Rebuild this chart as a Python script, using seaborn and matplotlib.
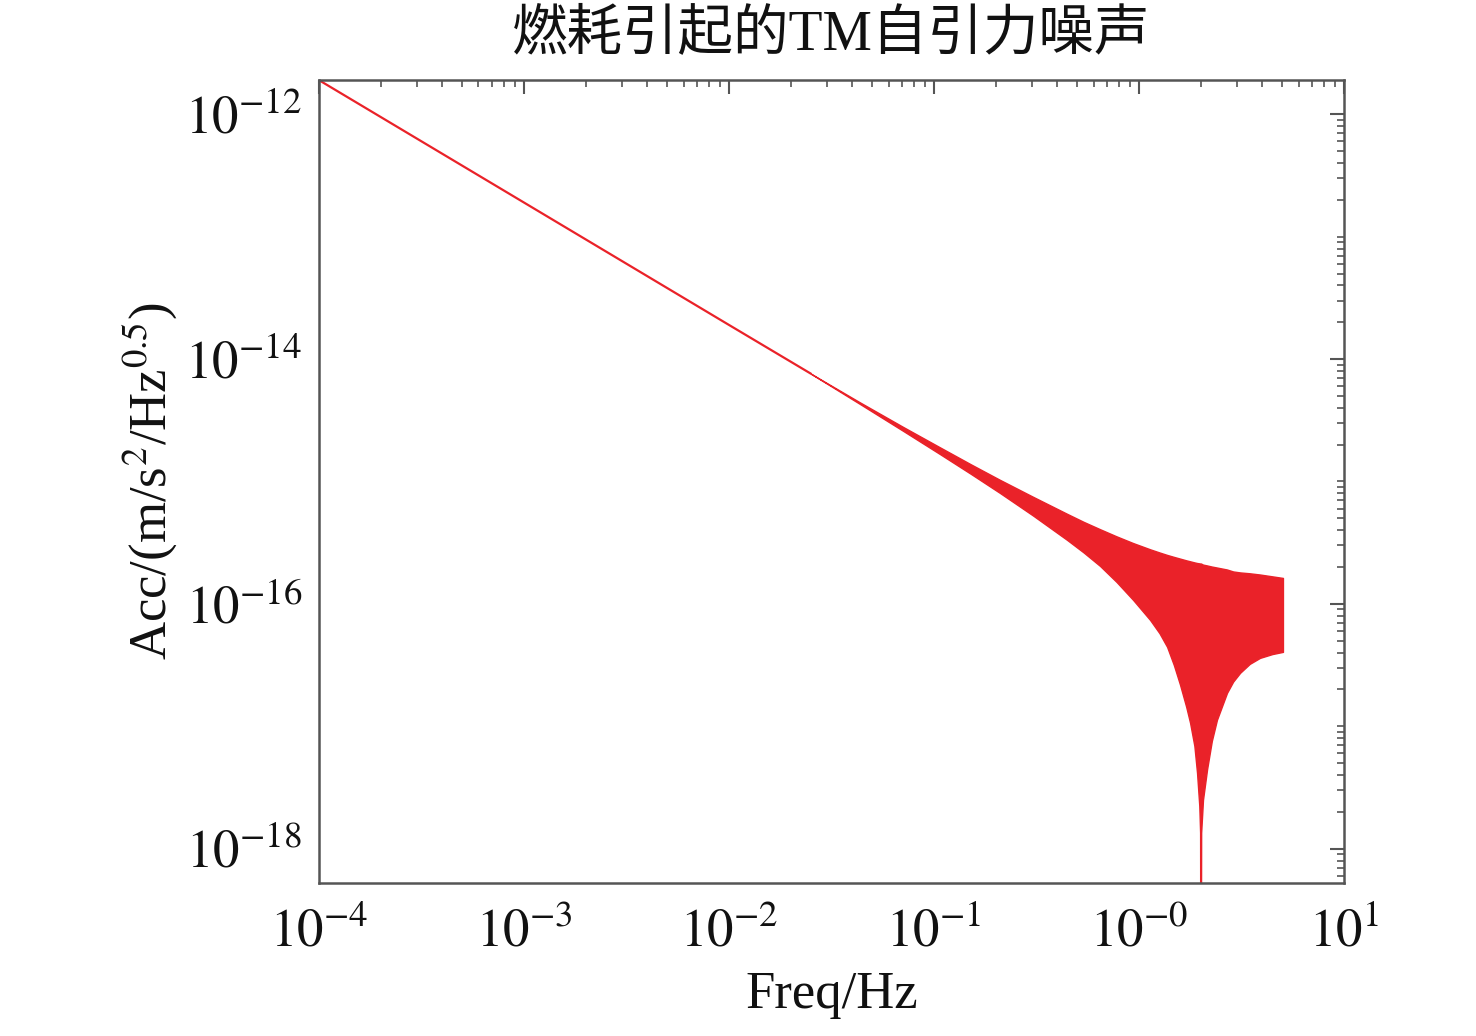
import numpy as np
import pandas as pd
import matplotlib
matplotlib.use("Agg")
import matplotlib.pyplot as plt
import seaborn as sns
from matplotlib.ticker import LogLocator, FixedLocator, FixedFormatter, NullFormatter

# thin 1/f part of the curve (Hz, m/s^2/Hz^0.5)
line_freq = [1e-4, 1e-3, 1e-2, 10 ** -1.6]
line_acc = [1.9e-12, 1.9e-13, 1.9e-14, 10 ** -14.12]

# envelope of the dense oscillation (log10 values)
band_logf = [-1.60, -1.361, -1.15, -0.971, -0.820, -0.678, -0.517, -0.351, -0.270, -0.190,
             -0.110, -0.029, 0.054, 0.100, 0.137, 0.170, 0.200, 0.230, 0.249, 0.270,
             0.283, 0.294, 0.298, 0.299, 0.301, 0.303, 0.312, 0.332, 0.355, 0.380,
             0.429, 0.459, 0.493, 0.540, 0.590, 0.650, 0.702]
band_log_upper = [-14.12, -14.354, -14.555, -14.721, -14.86, -14.987, -15.125, -15.264, -15.33, -15.39,
                  -15.448, -15.503, -15.554, -15.58, -15.60, -15.616, -15.63, -15.644, -15.652, -15.661,
                  -15.666, -15.669, -15.67, -15.67, -15.67, -15.671, -15.679, -15.686, -15.695, -15.703,
                  -15.719, -15.735, -15.743, -15.75, -15.76, -15.775, -15.788]
band_log_lower = [-14.12, -14.367, -14.587, -14.776, -14.938, -15.094, -15.278, -15.477, -15.58, -15.69,
                  -15.82, -15.967, -16.131, -16.24, -16.351, -16.50, -16.66, -16.84, -16.971, -17.16,
                  -17.38, -17.65, -17.869, -19.5, -19.5, -17.869, -17.60, -17.35, -17.12, -16.947,
                  -16.727, -16.635, -16.563, -16.49, -16.441, -16.41, -16.392]

x_ticks = [1e-4, 1e-3, 1e-2, 1e-1, 1e0, 1e1]
x_tick_labels = [r"$10^{-4}$", r"$10^{-3}$", r"$10^{-2}$", r"$10^{-1}$", r"$10^{-0}$", r"$10^{1}$"]
y_ticks = [1e-18, 1e-16, 1e-14, 1e-12]
y_tick_labels = [r"$10^{-18}$", r"$10^{-16}$", r"$10^{-14}$", r"$10^{-12}$"]

df_line = pd.DataFrame({"freq": line_freq, "acc": line_acc})
df_band = pd.DataFrame({
    "freq": 10 ** np.array(band_logf),
    "upper": 10 ** np.array(band_log_upper),
    "lower": 10 ** np.array(band_log_lower),
})

sns.set_theme(style="white")
plt.rcParams["font.family"] = ["Liberation Serif", "Noto Sans CJK SC"]
plt.rcParams["mathtext.fontset"] = "stix"

red = "#ea2229"

fig = plt.figure(figsize=(14.76, 10.36), dpi=100)
ax = fig.add_axes([0.2161, 0.1477, 0.6945, 0.7751])

sns.lineplot(data=df_line, x="freq", y="acc", color=red, lw=1.6, ax=ax)
ax.fill_between(df_band["freq"], df_band["lower"], df_band["upper"],
                color=red, lw=1.0, edgecolor=red)

ax.set_xscale("log")
ax.set_yscale("log")
ax.set_xlim(1e-4, 1e1)
ax.set_ylim(10 ** -18.28, 10 ** -11.72)

ax.xaxis.set_major_locator(FixedLocator(x_ticks))
ax.xaxis.set_major_formatter(FixedFormatter(x_tick_labels))
ax.yaxis.set_major_locator(FixedLocator(y_ticks))
ax.yaxis.set_major_formatter(FixedFormatter(y_tick_labels))
ax.xaxis.set_minor_locator(LogLocator(base=10, subs=np.arange(2, 10), numticks=50))
ax.yaxis.set_minor_locator(LogLocator(base=10, subs=np.arange(1, 10), numticks=50))
ax.xaxis.set_minor_formatter(NullFormatter())
ax.yaxis.set_minor_formatter(NullFormatter())

ax.tick_params(which="both", direction="in", top=True, right=True, colors="#555555",
               labelcolor="#111111")
ax.tick_params(which="major", length=10, width=1.5, labelsize=38)
ax.tick_params(which="minor", length=5, width=1.2)
ax.tick_params(axis="x", which="major", pad=18)
ax.tick_params(axis="y", which="major", pad=12)

for s in ax.spines.values():
    s.set_color("#555555")
    s.set_linewidth(1.8)

ax.set_xlabel("Freq/Hz", fontsize=38, color="#111111", labelpad=10)
ax.set_ylabel(r"Acc/(m/s$^2$/Hz$^{0.5}$)", fontsize=38, color="#111111", labelpad=4)
ax.set_title("燃耗引起的TM自引力噪声", fontsize=40, color="#111111", pad=22)

fig.savefig("out.png", dpi=100)
